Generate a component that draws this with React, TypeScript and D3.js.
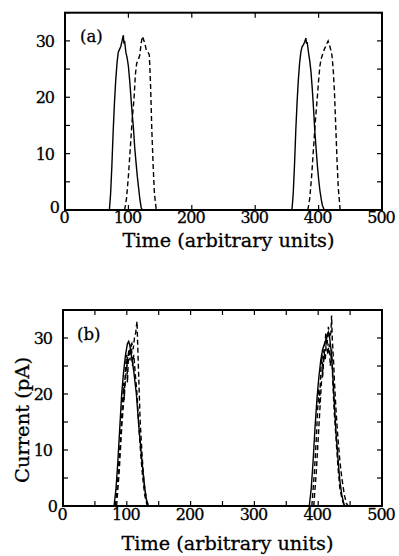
import { useEffect, useRef } from 'react';
import * as d3 from 'd3';

type Pt = [number, number];

// panel (a): solid and dashed pulses
const aSolid1: Pt[] = [[70,0],[72,3],[74,8],[76,14],[78,19],[80,23],[82,26],[84,28],[86,28.5],[88,29],[90,30],[92,31],[93,29.5],[94,30],[96,28],[98,27],[100,25.5],[102,23],[104,20],[106,17],[108,14.5],[110,11],[112,8.5],[114,6],[116,4],[118,2],[120,0.5],[122,0]];
const aDashed1: Pt[] = [[94,0],[97,2],[100,6],[103,11],[106,16],[109,20],[111,24],[113,26],[116,26.8],[118,27.5],[120,29.5],[122,30.8],[124,30.2],[126,29.5],[128,28.5],[131,28],[133,27.5],[135,22],[137,14],[139,8],[141,3],[144,0]];
const aSolid2: Pt[] = [[358,0],[360,3],[362,8],[364,14],[366,19],[368,23],[370,26],[372,28],[374,29],[376,29.3],[378,29.8],[380,30.5],[381,29.5],[382,29.8],[384,28],[386,26.5],[388,24.5],[390,21.5],[392,18],[394,14],[396,11],[398,8],[400,5.5],[402,3.5],[404,2],[406,0.8],[409,0]];
const aDashed2: Pt[] = [[383,0],[386,2],[389,6],[392,11],[395,16],[398,20],[400,23],[402,25.5],[404,26.8],[406,27.5],[409,28.5],[412,29.3],[415,30],[417,29.3],[419,28.5],[421,27.5],[423,25],[425,21],[427,15],[429,9],[431,4],[434,0]];

// panel (b): solid and two noisy dashed pulses
const bSolid1: Pt[] = [[80,0],[83,3],[86,8],[89,14],[92,20],[95,24],[98,27],[101,29],[103,29.4],[105,28.5],[107,27],[109,25.5],[111,24],[113,22],[115,20],[117,17],[119,14],[121,11.5],[123,9],[125,6.5],[127,4.5],[129,2.5],[131,1],[134,0]];
const bDashedA1: Pt[] = [[82,0],[86,5],[90,12],[93,18],[95,22],[96,19],[98,25],[100,27],[101,22],[103,28],[105,26],[107,29],[109,25],[111,27],[113,24],[116,20],[119,14],[122,9],[125,5],[128,2],[132,0]];
const bDashedB1: Pt[] = [[84,0],[88,6],[92,14],[96,20],[99,24],[102,27],[105,28],[108,29],[110,28],[112,30],[114,31],[116,33],[117,29],[119,22],[121,15],[124,9],[127,4],[131,1],[134,0]];
const bSolid2: Pt[] = [[386,0],[389,3],[392,8],[395,14],[398,19],[401,23],[404,26],[407,28],[410,29],[413,30],[416,31],[418,30],[420,28],[422,25],[424,21],[426,17],[428,13],[430,10],[432,7],[434,4.5],[437,2],[440,0.5],[442,0]];
const bDashedA2: Pt[] = [[390,0],[394,6],[397,12],[399,17],[401,21],[402,18],[404,24],[406,27],[407,23],[409,28],[411,26],[413,30],[415,27],[417,29],[419,25],[421,28],[423,22],[425,17],[428,12],[431,7],[434,3],[438,1],[441,0]];
const bDashedB2: Pt[] = [[393,0],[397,6],[400,12],[403,18],[405,22],[408,25],[410,28],[412,31],[414,29],[416,32],[418,30],[420,31],[421,34],[422,30],[424,26],[426,21],[428,17],[431,12],[434,8],[437,5],[441,2],[444,0.5],[447,0]];

const xTickLabels = [0, 100, 200, 300, 400, 500];
const yTickLabels = [0, 10, 20, 30];

const FONT = "'DejaVu Serif', 'Liberation Serif', serif";

const App = () => {
  const svgRef = useRef<SVGSVGElement>(null);

  useEffect(() => {
    const svg = d3.select(svgRef.current);
    svg.selectAll('*').remove();

    const panels = [
      { left: 65, right: 382, top: 12.7, bottom: 210, xStep: 100, tag: '(a)', tagX: 80, tagY: 42, tickDy: 13, titleDy: 37, zeroDy: 3,
        solid: [aSolid1, aSolid2], dashed: [aDashed1, aDashed2], ylabel: false },
      { left: 63, right: 382, top: 310, bottom: 506, xStep: 50, tag: '(b)', tagX: 77, tagY: 340, tickDy: 14, titleDy: 44, zeroDy: 6,
        solid: [bSolid1, bSolid2], dashed: [bDashedA1, bDashedB1, bDashedA2, bDashedB2], ylabel: true },
    ];

    panels.forEach(p => {
      const x = d3.scaleLinear().domain([0, 500]).range([p.left, p.right]);
      const y = d3.scaleLinear().domain([0, 35]).range([p.bottom, p.top]);
      const g = svg.append('g');

      const line = d3.line<Pt>()
        .x(d => x(d[0]))
        .y(d => y(d[1]));

      p.solid.forEach(s => {
        g.append('path')
          .attr('d', line(s))
          .attr('fill', 'none')
          .attr('stroke', '#000')
          .attr('stroke-width', 1.4);
      });
      p.dashed.forEach(s => {
        g.append('path')
          .attr('d', line(s))
          .attr('fill', 'none')
          .attr('stroke', '#000')
          .attr('stroke-width', 1.4)
          .attr('stroke-dasharray', '5,3');
      });

      // inward ticks on all four sides
      const xt = d3.range(0, 501, p.xStep);
      const yt = d3.range(0, 36, 5);
      const tl = 5;
      xt.forEach(v => {
        g.append('line').attr('x1', x(v)).attr('x2', x(v)).attr('y1', p.bottom).attr('y2', p.bottom - tl).attr('stroke', '#000').attr('stroke-width', 1.2);
        g.append('line').attr('x1', x(v)).attr('x2', x(v)).attr('y1', p.top).attr('y2', p.top + tl).attr('stroke', '#000').attr('stroke-width', 1.2);
      });
      yt.forEach(v => {
        g.append('line').attr('x1', p.left).attr('x2', p.left + tl).attr('y1', y(v)).attr('y2', y(v)).attr('stroke', '#000').attr('stroke-width', 1.2);
        g.append('line').attr('x1', p.right).attr('x2', p.right - tl).attr('y1', y(v)).attr('y2', y(v)).attr('stroke', '#000').attr('stroke-width', 1.2);
      });

      g.append('rect')
        .attr('x', p.left).attr('y', p.top)
        .attr('width', p.right - p.left).attr('height', p.bottom - p.top)
        .attr('fill', 'none').attr('stroke', '#000').attr('stroke-width', 2);

      const txt = (sel: any, size: number) => sel
        .style('font-family', FONT)
        .style('font-size', `${size}px`)
        .attr('fill', '#000')
        .attr('stroke', '#000')
        .attr('stroke-width', 0.3);

      xTickLabels.forEach(v => {
        g.append('text').call(txt, 16)
          .style('letter-spacing', '-1px')
          .attr('x', x(v) - 1).attr('y', p.bottom + p.tickDy)
          .attr('text-anchor', 'middle')
          .text(String(v));
      });
      yTickLabels.forEach(v => {
        const zero = v === 0;
        g.append('text').call(txt, 16)
          .style('letter-spacing', '-1px')
          .attr('x', zero ? p.left - 6 : p.left - 11)
          .attr('y', zero ? y(v) + p.zeroDy : y(v) + 6)
          .attr('text-anchor', 'end')
          .text(String(v));
      });

      g.append('text').call(txt, 16.5)
        .attr('x', p.tagX).attr('y', p.tagY)
        .text(p.tag);

      // start-anchored so the stretched length lands exactly where the reference text is
      const titleW = 212;
      g.append('text').call(txt, 19)
        .attr('x', (p.left + p.right) / 2 + 5 - titleW / 2).attr('y', p.bottom + p.titleDy)
        .attr('textLength', titleW)
        .attr('lengthAdjust', 'spacingAndGlyphs')
        .text('Time (arbitrary units)');

      if (p.ylabel) {
        const labW = 126;
        g.append('text').call(txt, 19)
          .attr('transform', `translate(29,${(p.top + p.bottom) / 2 + 12}) rotate(-90)`)
          .attr('x', -labW / 2)
          .attr('textLength', labW)
          .attr('lengthAdjust', 'spacingAndGlyphs')
          .text('Current (pA)');
      }
    });
  }, []);

  return (
    <svg ref={svgRef} width={399} height={556}
      style={{ position: 'absolute', left: 0, top: 0, background: '#fff' }} />
  );
};

export default App;
